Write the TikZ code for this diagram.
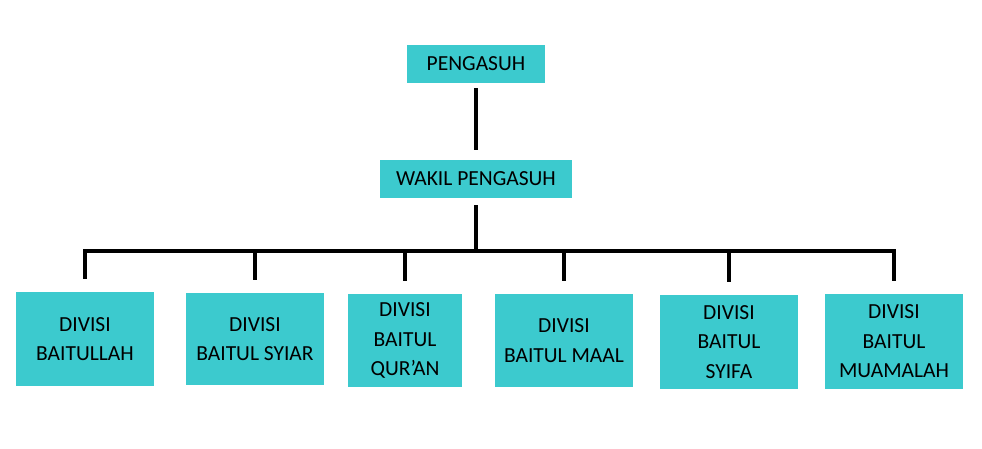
\documentclass[tikz,border=0pt]{standalone}
\usepackage{fontspec}
\setmainfont{Carlito}
\usetikzlibrary{calc}
\definecolor{tosca}{HTML}{3CCACE}

\begin{document}
\begin{tikzpicture}[x=1pt, y=-1pt,
		kotak/.style={fill=tosca, inner sep=0pt, align=center, font=\fontsize{21.5}{29.5}\selectfont},
		garis/.style={line width=4pt}]
	\useasboundingbox (0,0) rectangle (982,449);
	
	\node[kotak, minimum width=138, minimum height=38] (peng) at (476,64) {PENGASUH};
	\node[kotak, minimum width=192, minimum height=38] (wakil) at (476,179) {WAKIL PENGASUH};
	\coordinate (bar) at (476,251);
	
	\node[kotak, minimum width=138, minimum height=94] (div1) at (85,339) {DIVISI\\BAITULLAH};
	\node[kotak, minimum width=138, minimum height=92] (div2) at (255,339) {DIVISI\\BAITUL SYIAR};
	\node[kotak, minimum width=114, minimum height=93] (div3) at (405,340.5) {DIVISI\\BAITUL\\QUR’AN};
	\node[kotak, minimum width=138, minimum height=93] (div4) at (564,340.5) {DIVISI\\BAITUL MAAL};
	\node[kotak, minimum width=138, minimum height=94] (div5) at (729,342) {DIVISI\\BAITUL\\SYIFA};
	\node[kotak, minimum width=138, minimum height=95] (div6) at (894,341.5) {DIVISI\\BAITUL\\MUAMALAH};
	
	\draw[garis, shorten <=5pt, shorten >=10pt] (peng) -- (wakil);
	\draw[garis, shorten <=7pt] (wakil.south) -- (bar);
	\draw[garis, line cap=rect] (div1.north |- bar) -- (div6.north |- bar);
	\foreach \d in {div1,div2,div3,div4,div5,div6}
		\draw[garis, shorten >=13pt] (\d.north |- bar) -- (\d.north);
\end{tikzpicture}
\end{document}
